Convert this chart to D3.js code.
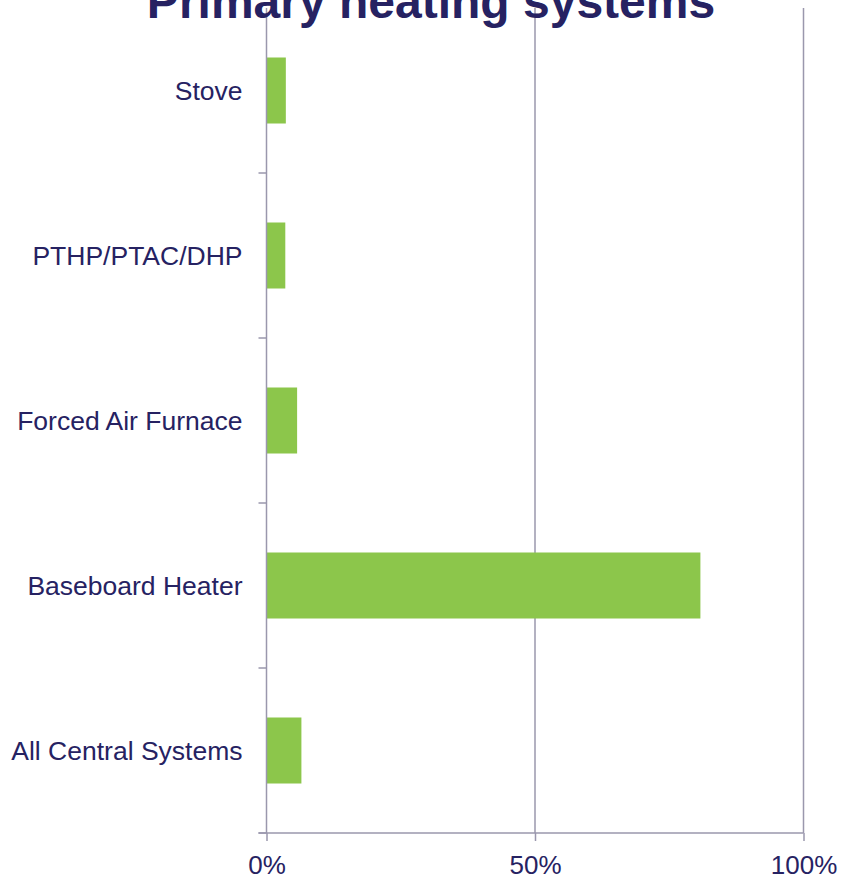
<!DOCTYPE html>
<html>
<head>
<meta charset="utf-8">
<script src="https://cdn.jsdelivr.net/npm/d3@7"></script>
<style>
  body { margin: 0; background: #fff; }
  text { font-family: "Liberation Sans", Arial, sans-serif; }
</style>
</head>
<body>
<div id="chart"></div>
<script>
var categories = ["Stove", "PTHP/PTAC/DHP", "Forced Air Furnace", "Baseboard Heater", "All Central Systems"];
var shares = [3.6, 3.5, 5.7, 80.8, 6.5];
var xTicks = [0, 50, 100];
var title = "Primary heating systems";

var width = 841, height = 880;
var plotLeft = 266.5, plotRight = 803.5, plotTop = 8, plotBottom = 833;
var ink = "#262262", axisColor = "#9a97ad", barColor = "#8cc64b";

var data = categories.map(function(c, i) { return {name: c, value: shares[i]}; });

var svg = d3.select("#chart").append("svg")
    .attr("width", width)
    .attr("height", height);

var x = d3.scaleLinear().domain([0, 100]).range([plotLeft, plotRight]);
var y = d3.scaleBand().domain(categories).range([plotTop, plotBottom]).paddingInner(0.6).paddingOuter(0.3);

// vertical gridlines
svg.append("g")
  .selectAll("line")
  .data(xTicks.slice(1))
  .enter().append("line")
    .attr("x1", function(d) { return x(d); })
    .attr("x2", function(d) { return x(d); })
    .attr("y1", plotTop)
    .attr("y2", plotBottom)
    .attr("stroke", axisColor)
    .attr("stroke-width", 1.5);

// bars
svg.append("g")
  .selectAll("rect")
  .data(data)
  .enter().append("rect")
    .attr("x", x(0))
    .attr("y", function(d) { return y(d.name); })
    .attr("width", function(d) { return x(d.value) - x(0); })
    .attr("height", y.bandwidth())
    .attr("fill", barColor);

// x axis
var xAxis = d3.axisBottom(x)
    .tickValues(xTicks)
    .tickSize(8)
    .tickFormat(function(d) { return d + "%"; });

var gx = svg.append("g")
    .attr("transform", "translate(0," + plotBottom + ")")
    .call(xAxis);
gx.select(".domain").attr("stroke", axisColor).attr("stroke-width", 1.5)
    .attr("d", "M" + (plotLeft - 8) + ",0H" + plotRight);
gx.selectAll(".tick line").attr("stroke", axisColor).attr("stroke-width", 1.5);
gx.selectAll(".tick text")
    .attr("y", 41)
    .attr("dy", 0)
    .attr("fill", ink)
    .style("font-size", "26px");

// y axis
var yAxis = d3.axisLeft(y).tickSize(0).tickPadding(24);
var gy = svg.append("g")
    .attr("transform", "translate(" + plotLeft + ",0)")
    .call(yAxis);
gy.select(".domain").attr("stroke", axisColor).attr("stroke-width", 1.5)
    .attr("d", "M0," + plotTop + "V" + plotBottom);
gy.selectAll(".tick text")
    .attr("fill", ink)
    .attr("dy", "0.36em")
    .style("font-size", "26.5px");

// category boundary ticks
var bounds = d3.range(1, categories.length + 1).map(function(i) { return plotTop + i * y.step(); });
gy.selectAll(".bound")
  .data(bounds)
  .enter().append("line")
    .attr("class", "bound")
    .attr("x1", -8)
    .attr("x2", 0)
    .attr("y1", function(d) { return d; })
    .attr("y2", function(d) { return d; })
    .attr("stroke", axisColor)
    .attr("stroke-width", 1.5);

// title
svg.append("text")
    .attr("x", 431)
    .attr("y", 18)
    .attr("text-anchor", "middle")
    .attr("fill", ink)
    .style("font-size", "48px")
    .style("font-weight", "bold")
    .text(title);
</script>
</body>
</html>
